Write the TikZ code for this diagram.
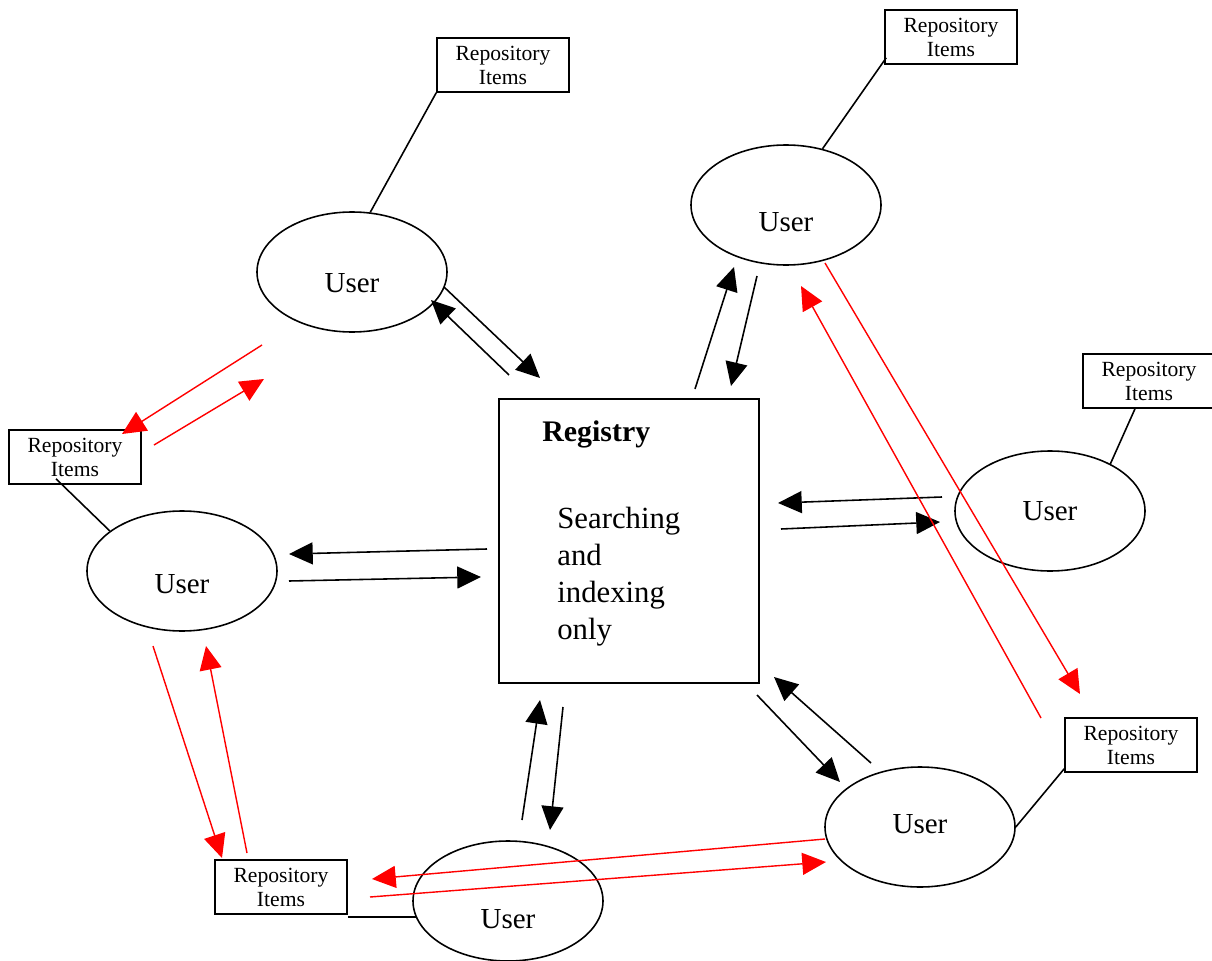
\documentclass[tikz,border=0pt]{standalone}
\usepackage{fontspec}
\setmainfont{Liberation Serif}
\usetikzlibrary{shapes.geometric,arrows.meta,calc}
\newcommand{\repitems}  {Repository\\Items}
\newcommand{\bigtext}   {\fontsize{17.5}{21}\selectfont}

\tikzset{
  user/.style={ellipse,draw,line width=0.9pt,minimum width=38mm,minimum height=24mm,
    inner sep=0pt,font=\fontsize{16.5}{18}\selectfont,text depth=0pt,text height=#1},
  user/.default=12pt,
  repo/.style={rectangle,draw,line width=0.9pt,minimum width=26.4mm,minimum height=10.8mm,
    inner sep=0pt,align=center,font=\fontsize{12.3}{13.6}\selectfont},
  link/.style={line width=0.9pt},
  blk/.style={line width=0.9pt,-{Triangle[length=13.5pt,width=12.5pt]}},
  rd/.style={red,line width=0.8pt,-{Triangle[length=13.5pt,width=12.5pt]}}
}

\begin{document}
\begin{tikzpicture}[x=0.2mm,y=-0.2mm]
   \useasboundingbox (0,0) rectangle (1212,961);
   \begin{scope}
    \node[draw,line width=1pt,minimum width=52mm,minimum height=56.8mm,inner sep=0pt] (reg) at (629,541) {};
    \node[anchor=base west,inner sep=0pt,font=\fontsize{17}{20}\selectfont\bfseries] (regtitle) at (542,441) {Registry};
    \node[anchor=north west,inner sep=0pt,align=left,font=\bigtext] (regbody) at (557,507) {Searching\\and\\indexing\\only};
   \end{scope}
   \begin{scope}
    \node[user=23pt]   (u1) at (352,272) {User};
    \node[user=30pt]   (u2) at (786,205) {User};
    \node[user=11pt]   (u3) at (1050,511) {User};
    \node[user=25.6pt] (u4) at (182,571) {User};
    \node[user=31pt]   (u5) at (508,901) {User};
    \node[user=7.4pt]  (u6) at (920,827) {User};
    \node[repo] (r1) at (503,65)   {\repitems};
    \node[repo] (r2) at (951,37)   {\repitems};
    \node[repo] (r3) at (1149,381) {\repitems};
    \node[repo] (r4) at (75,457)   {\repitems};
    \node[repo] (r5) at (1131,745) {\repitems};
    \node[repo] (r6) at (281,887)  {\repitems};
    \draw[link] (r1.south west) -- (u1.73);
    \draw[link] ($(r2.south west)+(2,-7)$) -- (u2.57);
    \draw[link] ($(r3.south)+(-14,0)$) -- (u3.38);
    \draw[link] ($(r4.south)+(-19,-6)$) -- (u4.151);
    \draw[link] ($(r5.south west)+(0,-4)$) -- (u6.east);
    \draw[link] (r6.east |- u5.190) -- (u5.190);
   \end{scope}
   \begin{scope}
    \coordinate (u1a) at (509,375); \coordinate (u1b) at (431,300);
    \coordinate (u1c) at (444,287); \coordinate (u1d) at (540,378);
    \coordinate (u2a) at (695,389); \coordinate (u2b) at (734,267);
    \coordinate (u2c) at (757,276); \coordinate (u2d) at (731,386);
    \coordinate (u3a) at (942,497); \coordinate (u3b) at (778,503);
    \coordinate (u3c) at (781,529); \coordinate (u3d) at (940,522);
    \coordinate (u4a) at (487,549); \coordinate (u4b) at (289,554);
    \coordinate (u4c) at (289,581); \coordinate (u4d) at (481,577);
    \coordinate (u5a) at (522,820); \coordinate (u5b) at (540,700);
    \coordinate (u5c) at (563,707); \coordinate (u5d) at (550,830);
    \coordinate (u6a) at (871,763); \coordinate (u6b) at (774,677);
    \coordinate (u6c) at (757,695); \coordinate (u6d) at (840,782);
    \draw[blk] (u1a) -- (u1b);
    \draw[blk] (u1c) -- (u1d);
    \draw[blk] (u2a) -- (u2b);
    \draw[blk] (u2c) -- (u2d);
    \draw[blk] (u3a) -- (u3b);
    \draw[blk] (u3c) -- (u3d);
    \draw[blk] (u4a) -- (u4b);
    \draw[blk] (u4c) -- (u4d);
    \draw[blk] (u5a) -- (u5b);
    \draw[blk] (u5c) -- (u5d);
    \draw[blk] (u6a) -- (u6b);
    \draw[blk] (u6c) -- (u6d);
   \end{scope}
   \begin{scope}
    \coordinate (p1a) at (262,345);  \coordinate (p1b) at (122,434);
    \coordinate (p1c) at (154,445);  \coordinate (p1d) at (264,379);
    \coordinate (p2a) at (153,646);  \coordinate (p2b) at (222,858);
    \coordinate (p2c) at (247,853);  \coordinate (p2d) at (206,646);
    \coordinate (p3a) at (825,839);  \coordinate (p3b) at (372,879);
    \coordinate (p3c) at (370,897);  \coordinate (p3d) at (826,862);
    \coordinate (p4a) at (825,263);  \coordinate (p4b) at (1080,694);
    \coordinate (p4c) at (1041,718); \coordinate (p4d) at (801,286);
    \draw[rd] (p1a) -- (p1b);
    \draw[rd] (p1c) -- (p1d);
    \draw[rd] (p2a) -- (p2b);
    \draw[rd] (p2c) -- (p2d);
    \draw[rd] (p3a) -- (p3b);
    \draw[rd] (p3c) -- (p3d);
    \draw[rd] (p4a) -- (p4b);
    \draw[rd] (p4c) -- (p4d);
   \end{scope}
\end{tikzpicture}
\end{document}
